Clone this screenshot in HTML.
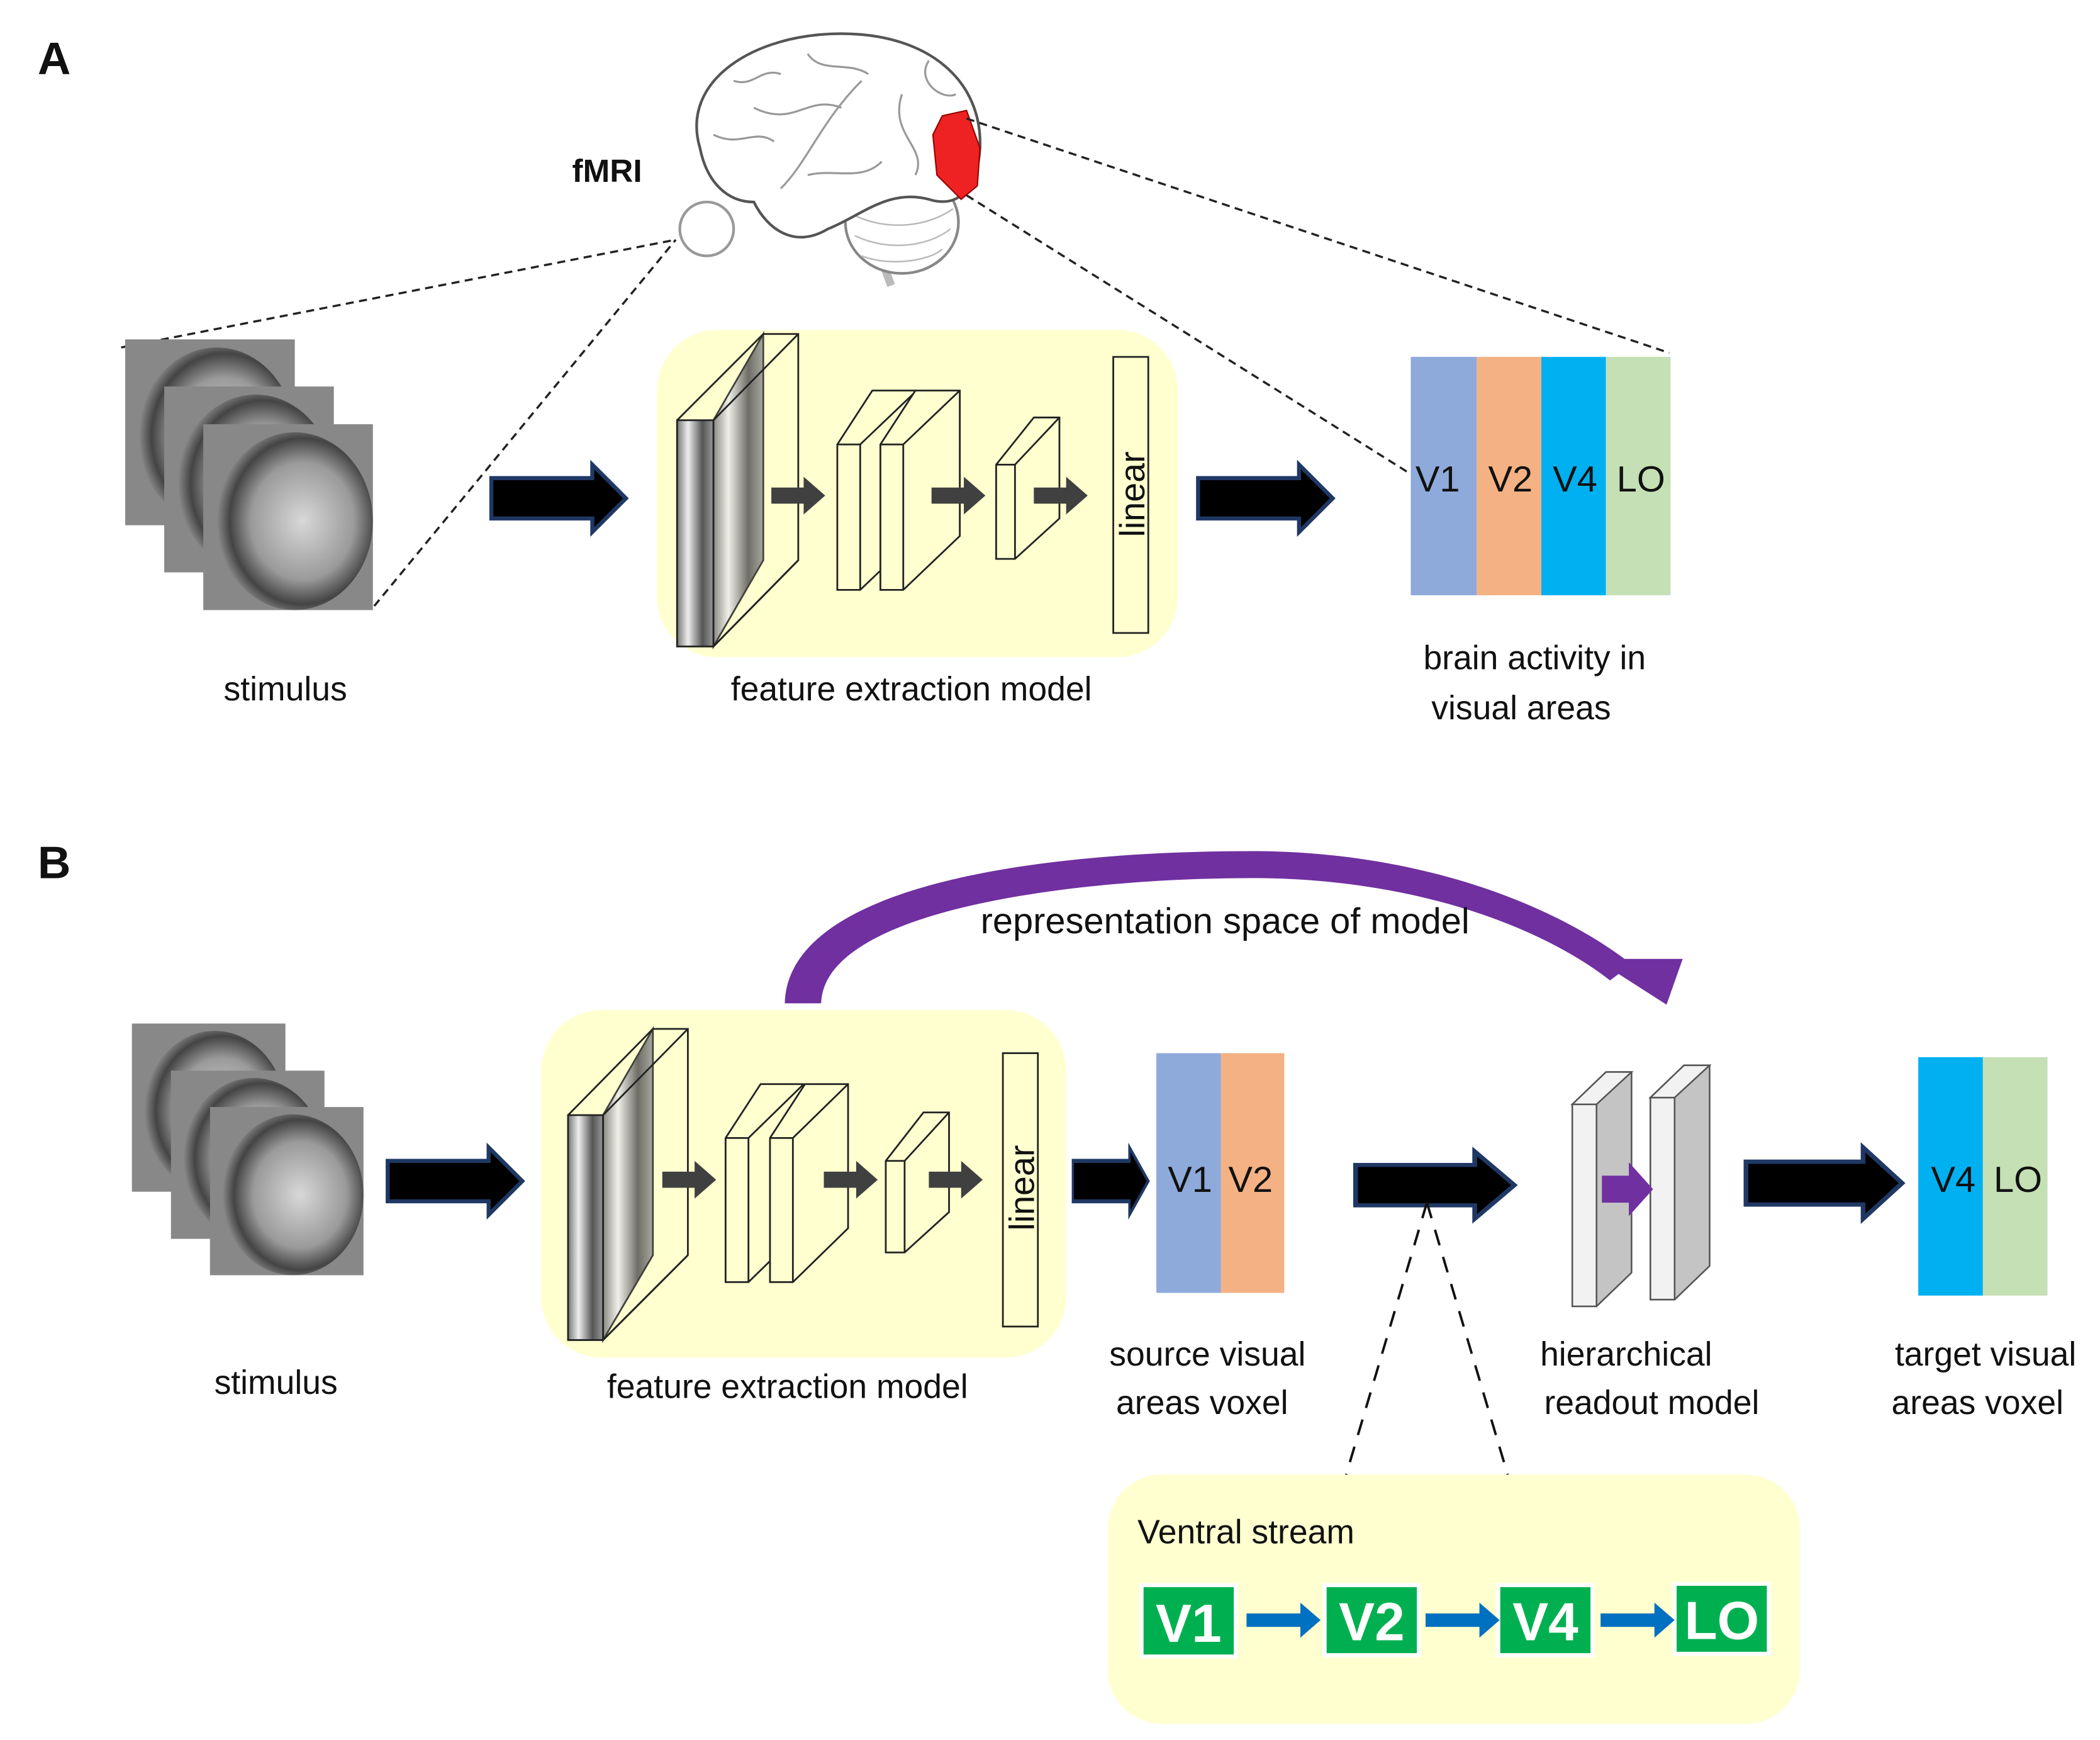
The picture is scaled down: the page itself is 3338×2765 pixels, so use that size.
<!DOCTYPE html>
<html><head><meta charset="utf-8"><style>
html,body{margin:0;padding:0;background:#fff;}
svg{display:block;}
text{font-family:"Liberation Sans",sans-serif;fill:#111;}
</style></head><body>
<svg width="3338" height="2765" viewBox="0 0 1560 1292" preserveAspectRatio="none" xmlns="http://www.w3.org/2000/svg">
<defs>
<radialGradient id="ph" cx="0.55" cy="0.5" r="0.55">
<stop offset="0" stop-color="#d8d8d8"/><stop offset="0.6" stop-color="#9a9a9a"/><stop offset="0.85" stop-color="#444"/><stop offset="1" stop-color="#8a8a8a"/>
</radialGradient>
<linearGradient id="img" x1="0" y1="0" x2="1" y2="0">
<stop offset="0" stop-color="#777"/><stop offset="0.3" stop-color="#eee"/><stop offset="0.7" stop-color="#555"/><stop offset="1" stop-color="#999"/>
</linearGradient>
<g id="stim">
<rect x="0" y="0" width="126" height="138" fill="#888"/>
<ellipse cx="68" cy="72" rx="58" ry="66" fill="url(#ph)"/>
</g>
<g id="bigarrow">
<path d="M0,10 L75,10 L75,0 L100,25 L75,50 L75,40 L0,40 Z" fill="#000" stroke="#1f3864" stroke-width="3"/>
</g>
<g id="garrow">
<path d="M0,8 L24,8 L24,0 L40,14 L24,28 L24,20 L0,20 Z" fill="#404040"/>
</g>
</defs>

<text x="28" y="55" font-size="34" font-weight="bold">A</text>

<g fill="#fff" stroke="#555" stroke-width="2">
<circle cx="525" cy="170" r="20" stroke="#999"/>
<path d="M650,180 L662,212" stroke="#bbb" stroke-width="6"/>
<ellipse cx="670" cy="165" rx="42" ry="38" stroke="#888"/>
<path d="M635,160 C660,172 690,168 708,155 M635,175 C660,187 690,183 706,170 M640,190 C660,198 690,194 700,185" fill="none" stroke="#bbb" stroke-width="1.2"/>
<path d="M520,110 C505,60 560,25 625,25 C690,25 730,60 728,110 C726,140 712,155 690,148 C660,140 640,160 615,170 C590,185 570,170 560,150 C540,150 525,135 520,110 Z"/>
<path d="M640,60 C610,90 600,120 580,140 M560,80 C590,95 600,70 625,80 M670,70 C660,100 690,110 680,130 M530,100 C550,110 560,95 575,105 M600,40 C610,55 630,45 645,55 M690,45 C680,60 700,75 710,70 M600,130 C620,125 640,135 655,120 M545,60 C560,65 565,50 580,55" fill="none" stroke="#999" stroke-width="1.5"/>
</g>
<path d="M700,86 L718,82 L728,110 L726,138 L714,148 L696,130 L693,100 Z" fill="#ee2222" stroke="#900" stroke-width="1"/>
<text x="425" y="135" font-size="24" font-weight="bold">fMRI</text>

<g stroke="#222" stroke-width="1.6" stroke-dasharray="6,4" fill="none">
<line x1="90" y1="258" x2="502" y2="178"/>
<line x1="278" y1="450" x2="502" y2="178"/>
<line x1="718" y1="88" x2="1240" y2="262"/>
<line x1="718" y1="145" x2="1048" y2="352"/>
</g>

<use href="#stim" x="93" y="252"/>
<use href="#stim" x="122" y="287"/>
<use href="#stim" x="151" y="315"/>
<text x="212" y="520" font-size="25" text-anchor="middle">stimulus</text>

<use href="#bigarrow" x="365" y="345"/>

<rect x="488" y="245" width="387" height="243" rx="45" fill="#ffffd0"/>
<g stroke="#222" stroke-width="1.3">
<polygon points="503,312 567,248 593,248 593,416 530,480 503,480" fill="#ffffd0"/>
<polygon points="503,312 530,312 530,480 503,480" fill="url(#img)"/>
<polygon points="530,312 567,248 567,416 530,480" fill="url(#img)" opacity="0.85"/>
<line x1="530" y1="312" x2="593" y2="248"/>
<line x1="593" y1="416" x2="530" y2="480"/>
</g>
<use href="#garrow" x="573" y="354"/>
<g stroke="#222" stroke-width="1.3" fill="#ffffd0">
<polygon points="622,330 648,290 681,290 681,398 639,438 622,438"/>
<line x1="639" y1="330" x2="681" y2="290" fill="none"/><line x1="639" y1="330" x2="639" y2="438"/>
<line x1="622" y1="330" x2="639" y2="330"/>
<polygon points="654,330 680,290 713,290 713,398 671,438 654,438"/>
<line x1="671" y1="330" x2="713" y2="290"/><line x1="671" y1="330" x2="671" y2="438"/>
<line x1="654" y1="330" x2="671" y2="330"/>
</g>
<use href="#garrow" x="692" y="354"/>
<g stroke="#222" stroke-width="1.3" fill="#ffffd0">
<polygon points="740,345 768,310 787,310 787,385 754,415 740,415"/>
<line x1="754" y1="345" x2="787" y2="310"/><line x1="754" y1="345" x2="754" y2="415"/>
<line x1="740" y1="345" x2="754" y2="345"/>
</g>
<use href="#garrow" x="768" y="354"/>
<rect x="827" y="265" width="26" height="205" fill="#ffffd0" stroke="#222" stroke-width="1.3"/>
<text transform="translate(850,367) rotate(-90)" font-size="26" text-anchor="middle">linear</text>
<text x="677" y="520" font-size="25" text-anchor="middle">feature extraction model</text>

<use href="#bigarrow" x="890" y="345"/>

<rect x="1048" y="265" width="49" height="177" fill="#8eaadb"/>
<rect x="1097" y="265" width="48" height="177" fill="#f4b183"/>
<rect x="1145" y="265" width="48" height="177" fill="#00b0f0"/>
<rect x="1193" y="265" width="48" height="177" fill="#c5e0b4"/>
<text x="1068" y="365" font-size="27" text-anchor="middle">V1</text>
<text x="1122" y="365" font-size="27" text-anchor="middle">V2</text>
<text x="1170" y="365" font-size="27" text-anchor="middle">V4</text>
<text x="1219" y="365" font-size="27" text-anchor="middle">LO</text>
<text x="1140" y="497" font-size="25" text-anchor="middle">brain activity in</text>
<text x="1130" y="534" font-size="25" text-anchor="middle">visual areas</text>

<text x="28" y="652" font-size="34" font-weight="bold">B</text>

<path d="M583,745 C585,660 760,632 930,632 C1060,632 1160,675 1212,716 L1196,728 C1145,688 1050,652 930,652 C800,652 612,675 610,745 Z" fill="#7030a0"/>
<polygon points="1185,712 1250,712 1238,746" fill="#7030a0"/>
<text x="910" y="693" font-size="27" text-anchor="middle">representation space of model</text>

<use href="#stim" transform="translate(98,760) scale(0.905)"/>
<use href="#stim" transform="translate(127,795) scale(0.905)"/>
<use href="#stim" transform="translate(156,822) scale(0.905)"/>
<text x="205" y="1035" font-size="25" text-anchor="middle">stimulus</text>

<use href="#bigarrow" x="288" y="852"/>

<rect x="402" y="750" width="390" height="258" rx="45" fill="#ffffd0"/>
<g stroke="#222" stroke-width="1.3">
<polygon points="422,828 485,764 511,764 511,932 448,995 422,995" fill="#ffffd0"/>
<polygon points="422,828 448,828 448,995 422,995" fill="url(#img)"/>
<polygon points="448,828 485,764 485,932 448,995" fill="url(#img)" opacity="0.85"/>
<line x1="448" y1="828" x2="511" y2="764"/>
<line x1="511" y1="932" x2="448" y2="995"/>
</g>
<use href="#garrow" x="492" y="862"/>
<g stroke="#222" stroke-width="1.3" fill="#ffffd0">
<polygon points="539,845 565,805 597,805 597,912 556,952 539,952"/>
<line x1="556" y1="845" x2="597" y2="805"/><line x1="556" y1="845" x2="556" y2="952"/>
<line x1="539" y1="845" x2="556" y2="845"/>
<polygon points="572,845 598,805 630,805 630,912 589,952 572,952"/>
<line x1="589" y1="845" x2="630" y2="805"/><line x1="589" y1="845" x2="589" y2="952"/>
<line x1="572" y1="845" x2="589" y2="845"/>
</g>
<use href="#garrow" x="612" y="862"/>
<g stroke="#222" stroke-width="1.3" fill="#ffffd0">
<polygon points="658,862 686,826 705,826 705,900 672,930 658,930"/>
<line x1="672" y1="862" x2="705" y2="826"/><line x1="672" y1="862" x2="672" y2="930"/>
<line x1="658" y1="862" x2="672" y2="862"/>
</g>
<use href="#garrow" x="690" y="862"/>
<rect x="745" y="782" width="26" height="203" fill="#ffffd0" stroke="#222" stroke-width="1.3"/>
<text transform="translate(768,882) rotate(-90)" font-size="26" text-anchor="middle">linear</text>
<text x="585" y="1038" font-size="25" text-anchor="middle">feature extraction model</text>

<g transform="translate(797,852) scale(0.56,1)"><use href="#bigarrow"/></g>

<rect x="859" y="782" width="48" height="178" fill="#8eaadb"/>
<rect x="907" y="782" width="47" height="178" fill="#f4b183"/>
<text x="884" y="885" font-size="27" text-anchor="middle">V1</text>
<text x="929" y="885" font-size="27" text-anchor="middle">V2</text>
<text x="897" y="1014" font-size="25" text-anchor="middle">source visual</text>
<text x="893" y="1050" font-size="25" text-anchor="middle">areas voxel</text>

<g transform="translate(1007,855) scale(1.18,1)"><use href="#bigarrow"/></g>

<g stroke="#555" stroke-width="1.2">
<polygon points="1168,820 1193,796 1212,796 1212,945 1186,970 1168,970" fill="#c4c4c4"/>
<polygon points="1168,820 1186,820 1186,970 1168,970" fill="#f2f2f2"/>
<polygon points="1168,820 1193,796 1212,796 1186,820" fill="#f2f2f2"/>
<polygon points="1226,815 1251,791 1270,791 1270,940 1244,965 1226,965" fill="#c4c4c4"/>
<polygon points="1226,815 1244,815 1244,965 1226,965" fill="#f2f2f2"/>
<polygon points="1226,815 1251,791 1270,791 1244,815" fill="#f2f2f2"/>
</g>
<path d="M1190,873 L1210,873 L1210,863 L1228,883 L1210,903 L1210,893 L1190,893 Z" fill="#7030a0"/>
<text x="1208" y="1014" font-size="25" text-anchor="middle">hierarchical</text>
<text x="1227" y="1050" font-size="25" text-anchor="middle">readout model</text>

<g transform="translate(1297,852) scale(1.16,1.06)"><use href="#bigarrow"/></g>

<rect x="1425" y="785" width="48" height="177" fill="#00b0f0"/>
<rect x="1473" y="785" width="48" height="177" fill="#c5e0b4"/>
<text x="1451" y="885" font-size="27" text-anchor="middle">V4</text>
<text x="1499" y="885" font-size="27" text-anchor="middle">LO</text>
<text x="1475" y="1014" font-size="25" text-anchor="middle">target visual</text>
<text x="1469" y="1050" font-size="25" text-anchor="middle">areas voxel</text>

<g stroke="#111" stroke-width="1.8" stroke-dasharray="12,9" fill="none">
<line x1="1060" y1="893" x2="1000" y2="1095"/>
<line x1="1060" y1="893" x2="1120" y2="1095"/>
</g>

<rect x="823" y="1095" width="514" height="185" rx="40" fill="#ffffd0"/>
<text x="845" y="1146" font-size="25">Ventral stream</text>
<g stroke="#fff" stroke-width="3" fill="#00b050">
<rect x="848" y="1177" width="70" height="53"/>
<rect x="984" y="1177" width="70" height="52"/>
<rect x="1113" y="1177" width="70" height="52"/>
<rect x="1244" y="1176" width="70" height="52"/>
</g>
<g font-size="40" font-weight="bold" text-anchor="middle">
<text x="883" y="1219" style="fill:#fff">V1</text>
<text x="1019" y="1218" style="fill:#fff">V2</text>
<text x="1148" y="1218" style="fill:#fff">V4</text>
<text x="1279" y="1217" style="fill:#fff">LO</text>
</g>
<g fill="#0070c0">
<path d="M926,1198 L966,1198 L966,1190 L981,1203 L966,1216 L966,1208 L926,1208 Z"/>
<path d="M1059,1198 L1099,1198 L1099,1190 L1114,1203 L1099,1216 L1099,1208 L1059,1208 Z"/>
<path d="M1189,1198 L1229,1198 L1229,1190 L1244,1203 L1229,1216 L1229,1208 L1189,1208 Z"/>
</g>
</svg>
</body></html>
